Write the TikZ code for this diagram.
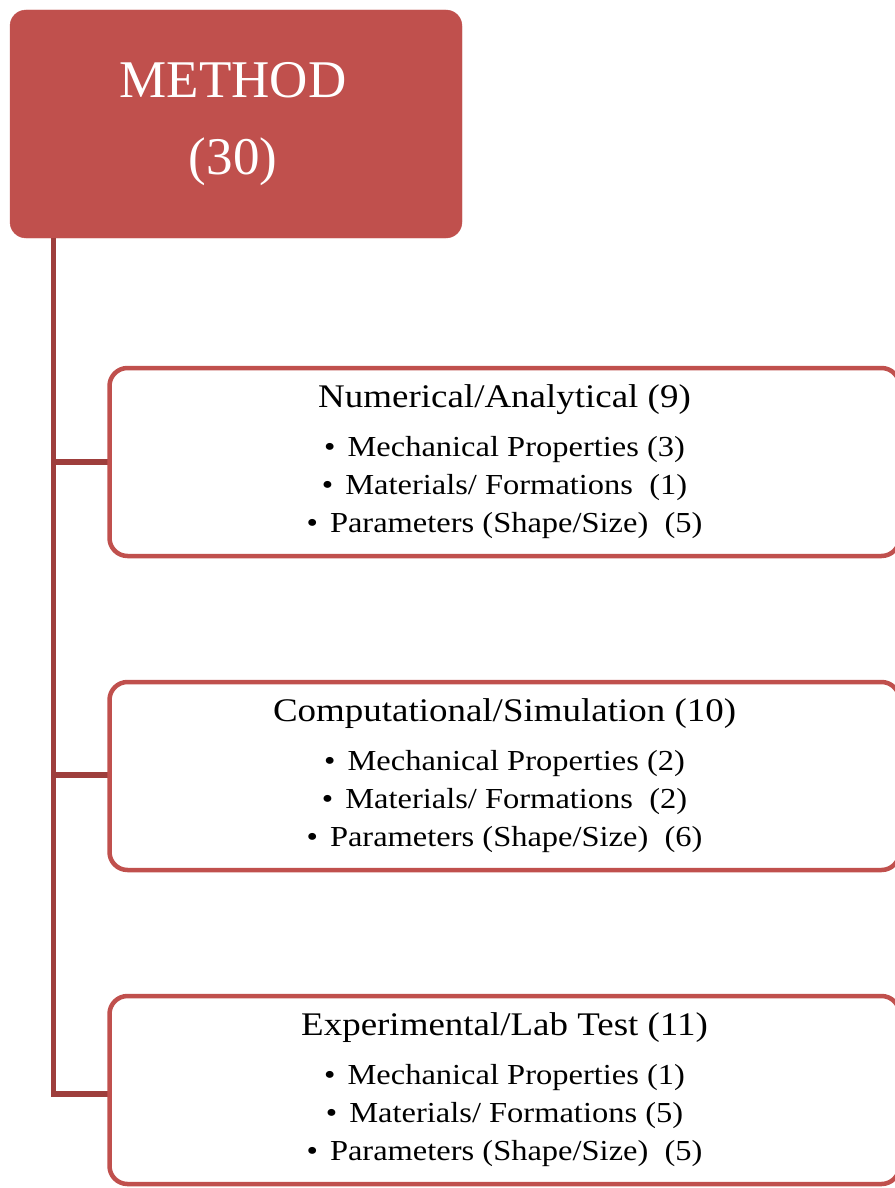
\documentclass[tikz,border=0pt]{standalone}
\usepackage{fontspec}
\setmainfont{Liberation Serif}
\newfontfamily\kastenschrift[FakeStretch=1.12]{Liberation Serif}
\definecolor{boxrot}{HTML}{C0504D}
\definecolor{linierot}{HTML}{9E3E3C}
\newcommand{\pkt}{•\kern4pt\ }
\begin{document}
\begin{tikzpicture}
	[
	x=1pt, y=-1pt,
	%Vorlagen fuer Kaesten und Linien
	oben/.style={fill=boxrot, draw=boxrot, rounded corners=16pt, text=white, minimum width=452pt, minimum height=228pt, align=center, inner sep=0pt, font=\fontsize{53}{77}\selectfont},
	kasten/.style={fill=white, draw=boxrot, line width=4.5pt, rounded corners=18pt, minimum width=790pt, minimum height=188pt, align=center, inner sep=0pt, font=\kastenschrift\fontsize{29}{38}\selectfont},
	ast/.style={draw=linierot, line width=5.5pt}
	]
	
	%Bildgroesse
	\useasboundingbox (0,0) rectangle (894,1188);
	
	%Hauptkasten
	\node [oben] (method) at (236,124) {\kern-6pt METHOD\\\kern-6pt(30)};
	
	%Abzweigpunkte am Stamm
	\coordinate (a1) at (53.5,462);
	\coordinate (a2) at (53.5,775);
	\coordinate (a3) at (53.5,1094);
	
	%Stamm und Aeste
	\draw [ast] (method.south -| a3) -- (a3) -- (a3 -| 110,0);
	\draw [ast] (a1) -- (a1 -| 110,0);
	\draw [ast] (a2) -- (a2 -| 110,0);
	
	%Unterkaesten
	\node [kasten] (numeric) at (504.5,462) {{\fontsize{33}{38}\selectfont Numerical/Analytical (9)}\\[11pt]
		\pkt Mechanical Properties (3)\\ \pkt Materials/ Formations~ (1)\\ \pkt Parameters (Shape/Size)~ (5)};
	\node [kasten] (comp) at (504.5,776) {{\fontsize{33}{38}\selectfont Computational/Simulation (10)}\\[11pt]
		\pkt Mechanical Properties (2)\\ \pkt Materials/ Formations~ (2)\\ \pkt Parameters (Shape/Size)~ (6)};
	\node [kasten] (exper) at (504.5,1090) {{\fontsize{33}{38}\selectfont Experimental/Lab Test (11)}\\[11pt]
		\pkt Mechanical Properties (1)\\ \pkt Materials/ Formations (5)\\ \pkt Parameters (Shape/Size)~ (5)};
\end{tikzpicture}
\end{document}
